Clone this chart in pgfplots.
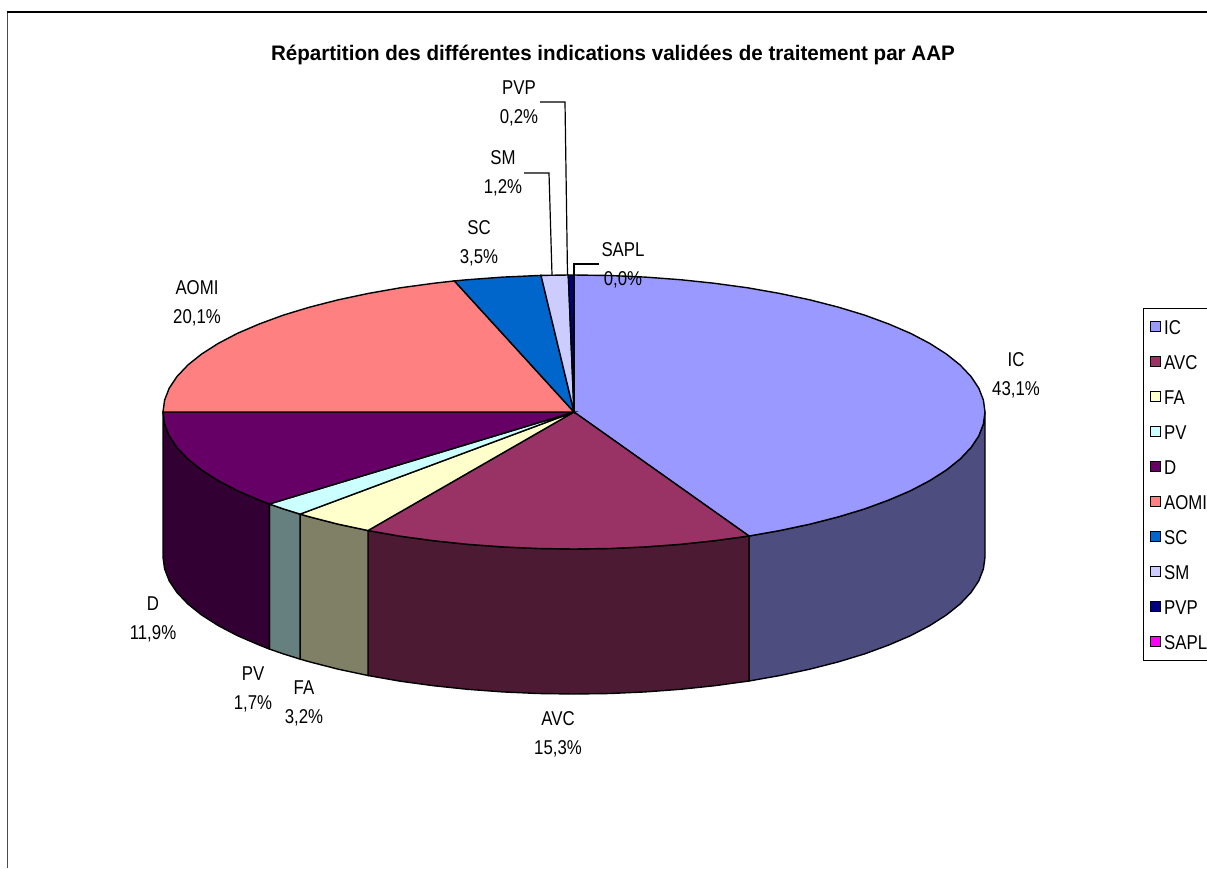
\documentclass[border=0pt]{standalone}
\usepackage{pgfplots}
\pgfplotsset{compat=1.18}
\usepackage{fontspec}
\setmainfont{Liberation Sans}
\newfontfamily\lbl[FakeStretch=0.84]{Liberation Sans}
\newfontfamily\ttl[FakeStretch=0.98]{Liberation Sans}
\definecolor{cIC}{HTML}{9999FF}
\definecolor{cAVC}{HTML}{993366}
\definecolor{cFA}{HTML}{FFFFCC}
\definecolor{cPV}{HTML}{CCFFFF}
\definecolor{cD}{HTML}{660066}
\definecolor{cAOMI}{HTML}{FF8080}
\definecolor{cSC}{HTML}{0066CC}
\definecolor{cSM}{HTML}{CCCCFF}
\definecolor{cPVP}{HTML}{000080}
\definecolor{cSAPL}{HTML}{FF00FF}
\definecolor{wIC}{HTML}{4D4D80}
\definecolor{wAVC}{HTML}{4D1A33}
\definecolor{wFA}{HTML}{808066}
\definecolor{wPV}{HTML}{668080}
\definecolor{wD}{HTML}{330033}
\newcommand{\lab}[3]{\node[align=center,font=\lbl\fontsize{20}{29}\selectfont] at (axis cs:#1,#2) {#3};}
\begin{document}
\begin{tikzpicture}
\useasboundingbox (0,0) rectangle (1207pt,868pt);
\begin{axis}[
  at={(0,0)},anchor=south west,
  scale only axis,width=1207pt,height=868pt,
  xmin=0,xmax=1207,ymin=0,ymax=868,y dir=reverse,
  hide axis,clip=false,
  legend image code/.code={\path[draw=none,fill=none] (0pt,0pt) -- (13pt,0pt);\draw[#1,draw=black,line width=1pt] (0pt,-5pt) rectangle (10pt,5pt);},
  legend cell align=left,
  legend style={at={(axis cs:1143,308)},anchor=north west,draw=black,line width=1.3pt,
    font=\lbl\fontsize{20}{22}\selectfont,row sep=14.5pt,inner xsep=6pt,inner ysep=8pt,
    nodes={inner sep=1pt,text height=17pt}},
  every axis plot/.append style={line width=1.4pt,draw=black},
]
% frame
\addplot[forget plot,line width=1.5pt,draw=black!70] coordinates {(7.5,12)(7.5,868)};
\addplot[forget plot,line width=2pt] coordinates {(7,12)(1207,12)};
% walls
\addplot[forget plot,fill=wIC] coordinates {(985,412)(983.4,423.9)(978.8,435.8)(971,447.5)(960.2,458.9)(946.5,469.9)(929.9,480.5)(910.7,490.6)(888.8,500)(864.6,508.9)(838.2,516.9)(809.7,524.2)(779.5,530.6)(749,536)(749,681)(779.5,675.6)(809.7,669.2)(838.2,661.9)(864.6,653.9)(888.8,645)(910.7,635.6)(929.9,625.5)(946.5,614.9)(960.2,603.9)(971,592.5)(978.8,580.8)(983.4,568.9)(985,557)} -- cycle;
\addplot[forget plot,fill=wAVC] coordinates {(749,536)(714.6,540.7)(680.4,544.3)(645.4,546.9)(609.8,548.5)(574,549)(538.2,548.5)(502.6,546.9)(467.6,544.3)(433.4,540.7)(400.3,536.2)(368,530.5)(368,675.5)(400.3,681.2)(433.4,685.7)(467.6,689.3)(502.6,691.9)(538.2,693.5)(574,694)(609.8,693.5)(645.4,691.9)(680.4,689.3)(714.6,685.7)(749,681)} -- cycle;
\addplot[forget plot,fill=wFA] coordinates {(368,530.5)(338.3,524.2)(309.8,516.9)(300.1,514.1)(300.1,659.1)(309.8,661.9)(338.3,669.2)(368,675.5)} -- cycle;
\addplot[forget plot,fill=wPV] coordinates {(300.1,514.1)(283.4,508.9)(269.3,504)(269.3,649)(283.4,653.9)(300.1,659.1)} -- cycle;
\addplot[forget plot,fill=wD] coordinates {(269.3,504)(259.2,500)(237.3,490.6)(218.1,480.5)(201.5,469.9)(187.8,458.9)(177,447.5)(169.2,435.8)(164.6,423.9)(163,412)(163,557)(164.6,568.9)(169.2,580.8)(177,592.5)(187.8,603.9)(201.5,614.9)(218.1,625.5)(237.3,635.6)(259.2,645)(269.3,649)} -- cycle;
% tops
\addplot[fill=cIC] coordinates {(574,412)(574,275)(609.8,275.5)(645.4,277.1)(680.4,279.7)(714.6,283.3)(747.7,287.8)(779.5,293.4)(809.7,299.8)(838.2,307.1)(864.6,315.1)(888.8,324)(910.7,333.4)(929.9,343.5)(946.5,354.1)(960.2,365.1)(971,376.5)(978.8,388.2)(983.4,400.1)(985,412)(983.4,423.9)(978.8,435.8)(971,447.5)(960.2,458.9)(946.5,469.9)(929.9,480.5)(910.7,490.6)(888.8,500)(864.6,508.9)(838.2,516.9)(809.7,524.2)(779.5,530.6)(749,536)} -- cycle;
\addlegendentry{IC}
\addplot[fill=cAVC] coordinates {(574,412)(749,536)(714.6,540.7)(680.4,544.3)(645.4,546.9)(609.8,548.5)(574,549)(538.2,548.5)(502.6,546.9)(467.6,544.3)(433.4,540.7)(400.3,536.2)(368,530.5)} -- cycle;
\addlegendentry{AVC}
\addplot[fill=cFA] coordinates {(574,412)(368,530.5)(338.3,524.2)(309.8,516.9)(300.1,514.1)} -- cycle;
\addlegendentry{FA}
\addplot[fill=cPV] coordinates {(574,412)(300.1,514.1)(283.4,508.9)(269.3,504)} -- cycle;
\addlegendentry{PV}
\addplot[fill=cD] coordinates {(574,412)(269.3,504)(259.2,500)(237.3,490.6)(218.1,480.5)(201.5,469.9)(187.8,458.9)(177,447.5)(169.2,435.8)(164.6,423.9)(163,412)} -- cycle;
\addlegendentry{D}
\addplot[fill=cAOMI] coordinates {(574,412)(163,412)(164.6,400.1)(169.2,388.2)(177,376.5)(187.8,365.1)(201.5,354.1)(218.1,343.5)(237.3,333.4)(259.2,324)(283.4,315.1)(309.8,307.1)(338.3,299.8)(368.5,293.4)(400.3,287.8)(433.4,283.3)(454.4,280.9)} -- cycle;
\addlegendentry{AOMI}
\addplot[fill=cSC] coordinates {(574,412)(454.4,280.9)(467.6,279.7)(502.6,277.1)(541,275.4)} -- cycle;
\addlegendentry{SC}
\addplot[fill=cSM] coordinates {(574,412)(541,275.4)(568.3,275)} -- cycle;
\addlegendentry{SM}
\addplot[fill=cPVP] coordinates {(574,412)(568.3,275)(574,275)} -- cycle;
\addlegendentry{PVP}
\addplot[fill=cSAPL,draw=black] coordinates {(574,412)(574,275)} -- cycle;
\addlegendentry{SAPL}
% leader lines
\addplot[forget plot,line width=1.2pt] coordinates {(540,102)(565,102)(567.5,275)};
\addplot[forget plot,line width=1.2pt] coordinates {(524,173)(549,173)(552,275)};
\addplot[forget plot,line width=1.2pt] coordinates {(599,264)(574,264)(574,275)};
% texts
\node[font=\ttl\bfseries\fontsize{21}{23}\selectfont] at (axis cs:613,55) {Répartition des différentes indications validées de traitement par AAP};
\lab{519}{103}{PVP\\0,2\%}
\lab{503}{173}{SM\\1,2\%}
\lab{479}{243}{SC\\3,5\%}
\lab{623}{265}{SAPL\\0,0\%}
\lab{197}{303}{AOMI\\20,1\%}
\lab{1016}{375}{IC\\43,1\%}
\lab{558}{734}{AVC\\15,3\%}
\lab{153}{619}{D\\11,9\%}
\lab{253}{689}{PV\\1,7\%}
\lab{304}{703}{FA\\3,2\%}
\end{axis}
\end{tikzpicture}
\end{document}
